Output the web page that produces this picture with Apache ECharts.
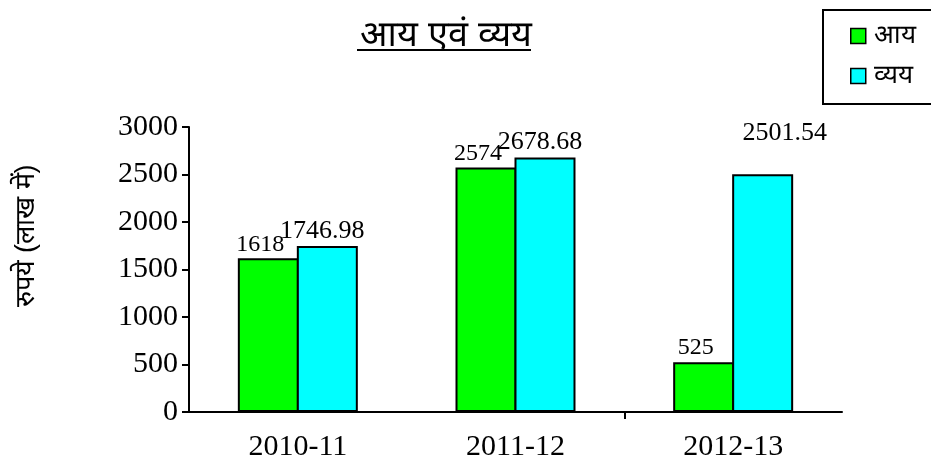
<!DOCTYPE html>
<html lang="hi">
<head>
    <meta charset="UTF-8">
    <title>आय एवं व्यय</title>
    <style>
        *{ padding:0; margin:0; }
        html, body{ width:931px; height:459px; background:#fff; }
        #main{ width:931px; height:459px; }
    </style>
    <script src="https://cdn.jsdelivr.net/npm/echarts@6/dist/echarts.min.js"></script>
</head>
<body>
<div id="main"></div>
<script>
    var years = ['2010-11', '2011-12', '2012-13'];
    var income = [1618, 2574, 525];
    var expense = [1746.98, 2678.68, 2501.54];
    var yTicks = [0, 500, 1000, 1500, 2000, 2500, 3000];
    // the original only marks the boundary between 2011-12 and 2012-13
    var boundaryTicks = [2];

    var serif = '"Liberation Serif", "Times New Roman", serif';

    var myChart = echarts.init(document.getElementById('main'));

    // the last expense label floats well above and right of its bar
    var expenseData = expense.map(function (v, i) {
        if (i === 2) {
            return { value: v, label: { offset: [22, -26] } };
        }
        return v;
    });

    function barLabel(size, dx) {
        return {
            show: true,
            position: 'top',
            distance: 2,
            offset: [dx, 0],
            color: '#000',
            fontFamily: serif,
            fontSize: size
        };
    }

    var option = {
        backgroundColor: '#fff',
        animation: false,
        title: {
            text: 'आय एवं व्यय',
            left: 441,
            textAlign: 'center',
            top: 13,
            textStyle: {
                color: '#000',
                fontSize: 36,
                fontWeight: 'normal',
                fontFamily: 'sans-serif'
            }
        },
        graphic: [{
            type: 'line',
            shape: { x1: 357, y1: 50, x2: 531, y2: 50 },
            style: { stroke: '#000', lineWidth: 2 }
        }, {
            type: 'text',
            x: 27,
            y: 236,
            rotation: Math.PI / 2,
            style: {
                text: 'रुपये (लाख में)',
                fill: '#000',
                fontSize: 27,
                align: 'center',
                verticalAlign: 'middle'
            }
        }],
        legend: {
            orient: 'vertical',
            left: 823,
            top: 10,
            padding: [13, 40, 15, 27],
            itemGap: 14,
            itemWidth: 15,
            itemHeight: 15,
            borderColor: '#000',
            borderWidth: 2,
            icon: 'rect',
            itemStyle: { borderColor: '#000', borderWidth: 1.5 },
            textStyle: { color: '#000', fontSize: 26, padding: [0, 0, 0, 3] },
            data: ['आय', 'व्यय']
        },
        grid: {
            left: 189,
            right: 89,
            top: 127,
            bottom: 47,
            outerBoundsMode: 'none'
        },
        xAxis: [{
            type: 'category',
            data: years,
            axisLine: { lineStyle: { color: '#000', width: 2 } },
            axisTick: { show: false },
            axisLabel: {
                color: '#000',
                fontFamily: serif,
                fontSize: 30,
                margin: 20
            }
        }, {
            type: 'value',
            position: 'bottom',
            min: 0,
            max: years.length,
            axisLine: { show: false },
            axisLabel: { show: false },
            splitLine: { show: false },
            axisTick: {
                show: true,
                length: 7,
                customValues: boundaryTicks,
                lineStyle: { color: '#000', width: 2 }
            }
        }],
        yAxis: {
            type: 'value',
            min: yTicks[0],
            max: yTicks[yTicks.length - 1],
            interval: 500,
            splitLine: { show: false },
            axisLine: { show: true, lineStyle: { color: '#000', width: 2 } },
            axisTick: { show: true, length: 7, lineStyle: { color: '#000', width: 2 } },
            axisLabel: {
                color: '#000',
                fontFamily: serif,
                fontSize: 30,
                margin: 11,
                formatter: function (v) { return String(v); }
            }
        },
        series: [
            {
                name: 'आय',
                type: 'bar',
                barWidth: 61,
                barGap: '-3.3%',
                itemStyle: { color: '#00ff00', borderColor: '#000', borderWidth: 2 },
                label: barLabel(24, -8),
                data: income
            },
            {
                name: 'व्यय',
                type: 'bar',
                barWidth: 61,
                barGap: '-3.3%',
                itemStyle: { color: '#00ffff', borderColor: '#000', borderWidth: 2 },
                label: barLabel(26, -5),
                data: expenseData
            }
        ]
    };
    myChart.setOption(option);
</script>
</body>
</html>
